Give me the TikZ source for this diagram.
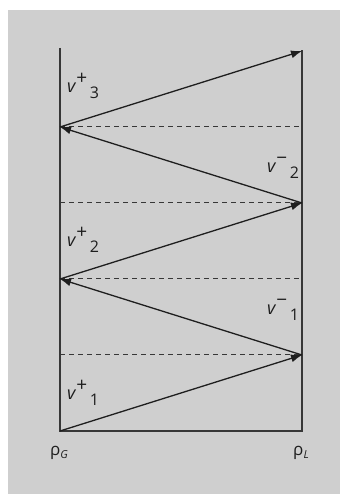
\documentclass[tikz,border=0pt]{standalone}
\usepackage{fontspec}
\setmainfont{Open Sans}
\definecolor{bgGrey} {RGB}{207,207,207}
\definecolor{lnInk}  {RGB}{ 30, 30, 30}
\definecolor{axInk}  {RGB}{ 55, 55, 55}
\usetikzlibrary{arrows.meta,positioning}

% velocity label: v with a raised sign and a lowered index
\newcommand{\vsym}[2]{\textit{v}\raisebox{8.5pt}{\fontsize{19}{19}\selectfont#1}%
  \raisebox{-6pt}{\fontsize{16}{16}\selectfont\,#2}}
\newcommand{\rhosym}[1]{ρ\raisebox{-3pt}{\fontsize{11}{11}\selectfont\itshape#1}}

\begin{document}
\begin{tikzpicture}[
  x=1pt, y=1pt,
  axis/.style ={draw=axInk, line width=1.3pt},
  wave/.style ={-{Latex[length=11pt,width=8pt]}, draw=lnInk, line width=1.3pt},
  level/.style={draw=axInk, dash pattern=on 5pt off 4pt, line width=1pt},
  vlbl/.style ={font=\fontsize{18}{20}\selectfont, text=lnInk, inner sep=0pt,
                anchor=base west},
  rlbl/.style ={font=\fontsize{17}{20}\selectfont, text=lnInk, inner sep=0pt,
                anchor=base},
]
  % grey panel and page size
  \useasboundingbox (0,0) rectangle (340,494);
  \fill[bgGrey] (8,0) rectangle (340,484);

  % reflection points on the two walls, 76 apart
  \coordinate (g0) at (60, 63);
  \coordinate (l1) at (302,139);
  \coordinate (g1) at (60,215);
  \coordinate (l2) at (302,291);
  \coordinate (g2) at (60,367);
  \coordinate (l3) at (302,443);
  \coordinate (l0) at (302, 63);
  \coordinate (gTop) at (60,446);
  \coordinate (lTop) at (302,444);
  \coordinate (gL1) at (60,139);
  \coordinate (lL1) at (302,215);
  \coordinate (gL2) at (60,291);
  \coordinate (lL2) at (302,367);

  % walls
  \draw[axis] (gTop) -- (g0) -- (l0) -- (lTop);

  % dashed levels
  \draw[level] (gL1) -- (l1);
  \draw[level] (g1)  -- (lL1);
  \draw[level] (gL2) -- (l2);
  \draw[level] (g2)  -- (lL2);

  % zig-zag of waves
  \draw[wave] (g0) -- (l1);
  \draw[wave] (l1) -- (g1);
  \draw[wave] (g1) -- (l2);
  \draw[wave] (l2) -- (g2);
  \draw[wave] (g2) -- (l3);

  % labels
  \node[vlbl] (vp1) at (67, 94)  {\vsym{+}{1}};
  \node[vlbl] (vp2) at (67,247)  {\vsym{+}{2}};
  \node[vlbl] (vp3) at (67,401)  {\vsym{+}{3}};
  \node[vlbl] (vm1) at (267,179) {\vsym{−}{1}};
  \node[vlbl] (vm2) at (267,321) {\vsym{−}{2}};

  \node[rlbl] (rG) at (59,38)  {\rhosym{G}};
  \node[rlbl] (rL) at (301,38) {\rhosym{L}};
\end{tikzpicture}
\end{document}
